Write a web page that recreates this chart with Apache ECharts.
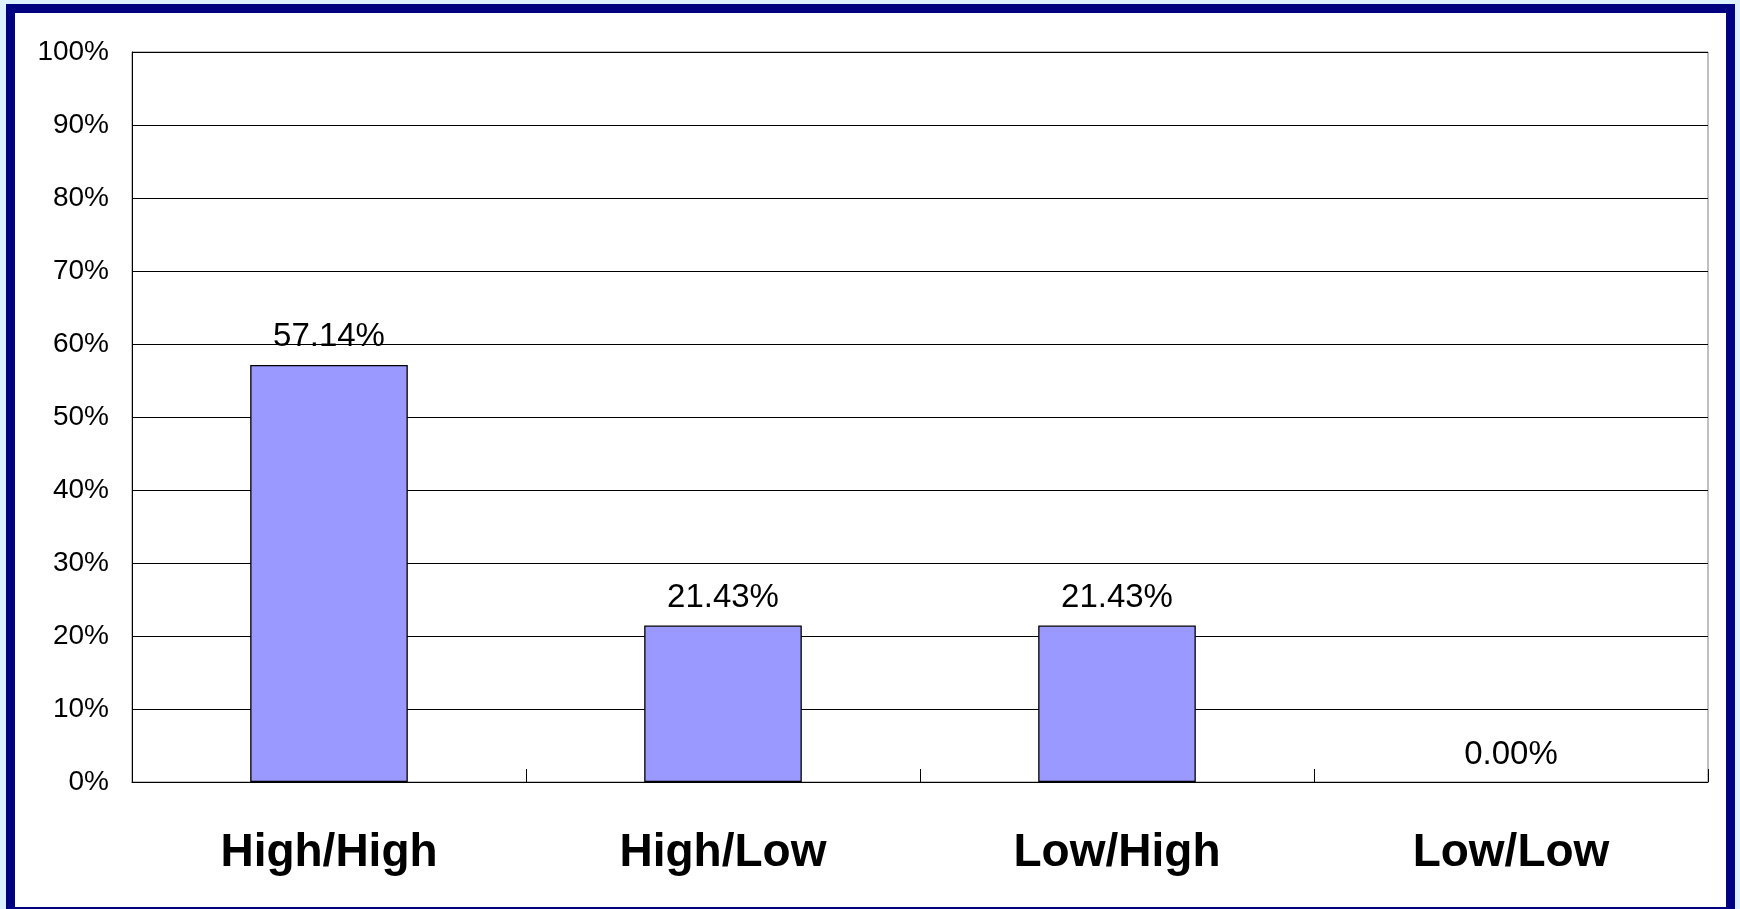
<!DOCTYPE html>
<html>
<head>
<meta charset="utf-8">
<script src="https://cdn.jsdelivr.net/npm/echarts@6/dist/echarts.min.js"></script>
<style>
html,body{margin:0;padding:0;width:1740px;height:909px;overflow:hidden;background:#ddf0ff;}
#frame{position:absolute;left:6px;top:4px;width:1729px;height:912px;box-sizing:border-box;border:9px solid #000080;background:#ffffff;}
#chart{position:absolute;left:0;top:0;width:1740px;height:909px;}
</style>
</head>
<body>
<div id="frame"></div>
<div id="chart"></div>
<script>
const categories = ['High/High', 'High/Low', 'Low/High', 'Low/Low'];
const values = [57.14, 21.43, 21.43, 0.00];
const yTicks = [0, 10, 20, 30, 40, 50, 60, 70, 80, 90, 100];

const chart = echarts.init(document.getElementById('chart'), null, {renderer: 'canvas'});
const font = 'Liberation Sans, Arial, sans-serif';
const barData = values.map(v => v === 0 ? {value: v, itemStyle: {borderWidth: 0}} : v);
chart.setOption({
  backgroundColor: 'transparent',
  animation: false,
  grid: {left: 132, right: 32, top: 52, bottom: 127, show: true, borderColor: '#808080', borderWidth: 1, containLabel: false},
  xAxis: {
    type: 'category',
    data: categories,
    boundaryGap: true,
    axisLine: {show: true, lineStyle: {color: '#000', width: 1}},
    axisTick: {show: true, inside: true, length: 13, lineStyle: {color: '#000'}},
    axisLabel: {fontFamily: font, fontWeight: 'bold', fontSize: 46, color: '#000', margin: 48},
    splitLine: {show: false}
  },
  yAxis: {
    type: 'value',
    min: yTicks[0],
    max: yTicks[yTicks.length - 1],
    interval: 10,
    axisLine: {show: true, lineStyle: {color: '#000', width: 1}},
    axisTick: {show: true, inside: true, length: 8, lineStyle: {color: '#000'}},
    axisLabel: {fontFamily: font, fontSize: 28, color: '#000', margin: 23, padding: [7, 0, 0, 0], formatter: v => v + '%'},
    splitLine: {show: true, lineStyle: {color: '#000', width: 1}}
  },
  series: [{
    type: 'bar',
    data: barData,
    barWidth: '40%',
    itemStyle: {color: '#9999ff', borderColor: '#000', borderWidth: 1.3},
    label: {show: true, position: 'top', distance: 11, fontFamily: font, fontSize: 33, color: '#000', formatter: p => Number(p.value).toFixed(2) + '%'}
  }]
});
</script>
</body>
</html>
